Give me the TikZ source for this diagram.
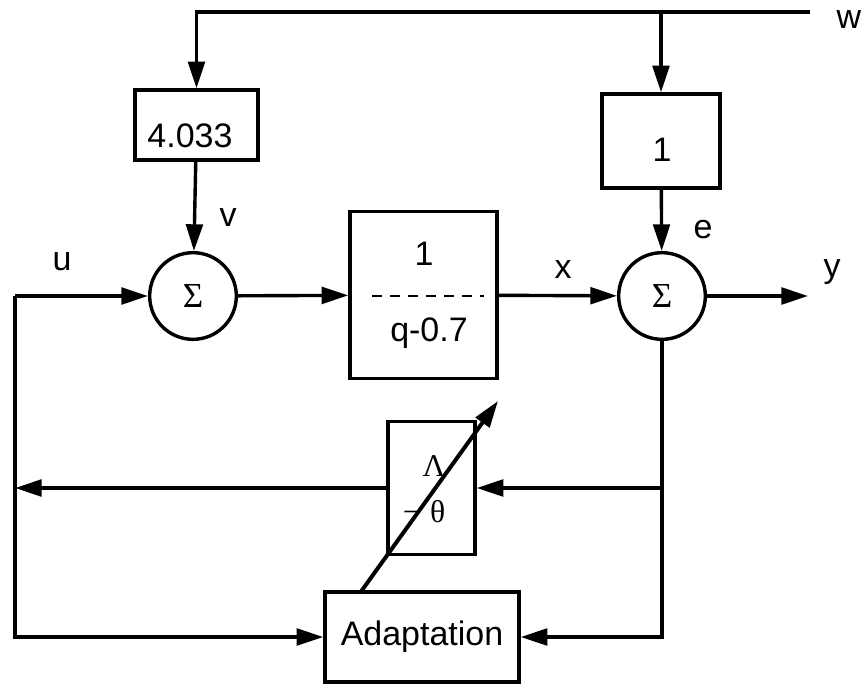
\documentclass[tikz,border=0pt]{standalone}
\usepackage{fontspec}
\setmainfont{Liberation Sans}
\newfontfamily\greekfont{Liberation Serif}
\usetikzlibrary{arrows.meta}

\begin{document}
\begin{tikzpicture}[x=0.03cm,y=-0.03cm,line width=2.9pt,
	font=\fontsize{29}{33}\selectfont,
	arr/.style={-{Triangle[length=0.8cm,width=0.5cm]}},
	blockbox/.style={draw,inner sep=0pt},
	sumnode/.style={draw,circle,inner sep=0pt,minimum size=2.6cm,
		font=\fontsize{30}{34}\selectfont\greekfont},
	greek/.style={inner sep=0pt,font=\fontsize{27}{30}\selectfont\greekfont}]
\useasboundingbox (0,0) rectangle (866,692);
% blocks
\node[blockbox,minimum width=3.69cm,minimum height=2.1cm] (gv) at (196.5,125) {};
\node (gvtxt) at (190,136) {4.033};
\node[blockbox,minimum width=3.54cm,minimum height=2.82cm] (ge) at (661,141) {};
\node (getxt) at (662,150) {1};
\node[sumnode] (sv) at (193,296) {Σ};
\node[sumnode] (se) at (662,296) {Σ};
\node[blockbox,minimum width=4.41cm,minimum height=5.01cm] (plant) at (423.5,295) {};
\node (num) at (424,254) {1};
\node (den) at (429,333) {q-0.7};
\node[blockbox,minimum width=2.61cm,minimum height=3.99cm] (theta) at (431.5,488) {};
\node[greek] (lam) at (434,466) {Λ};
\node[greek] (mth) at (424,512) {−\hspace{0.3em}θ};
\node[blockbox,minimum width=5.82cm,minimum height=2.7cm] (adapt) at (422,637) {Adaptation};
% signal labels
\node (lw) at (849,20) {w};
\node (lu) at (62,262) {u};
\node (lv) at (228,218) {v};
\node (lx) at (563,270) {x};
\node (le) at (703,230) {e};
\node (ly) at (832,272) {y};
% free ends
\coordinate (w) at (810,12);
\coordinate (uin) at (15,296);
\coordinate (uleft) at (15,488);
\coordinate (ubot) at (15,637);
\coordinate (ebr) at (662,488);
\coordinate (yout) at (808,296);
\coordinate (dl) at (372,296);
\coordinate (dr) at (484,296);
\coordinate (tune0) at (360,593);
\coordinate (tune1) at (498,401);
% connectors
\draw[line width=2pt,dash pattern=on 0.3cm off 0.24cm] (dl) -- (dr);
\draw[arr] (w) -| (gv.north);
\draw[arr] (ge.north |- w) -- (ge.north);
\draw[arr] (gv) -- (sv);
\draw[arr] (ge) -- (se);
\draw[arr] (uin) -- (sv);
\draw[arr] (sv) -- (plant);
\draw[arr] (plant) -- (se);
\draw[arr] (se) -- (yout);
\draw[arr] (se) |- (adapt);
\draw[arr] (ebr) -- (theta);
\draw[arr] (theta) -- (uleft);
\draw[arr] (uin) -- (ubot) -- (adapt);
\draw[arr,line width=3.4pt] (tune0) -- (tune1);
\end{tikzpicture}
\end{document}
